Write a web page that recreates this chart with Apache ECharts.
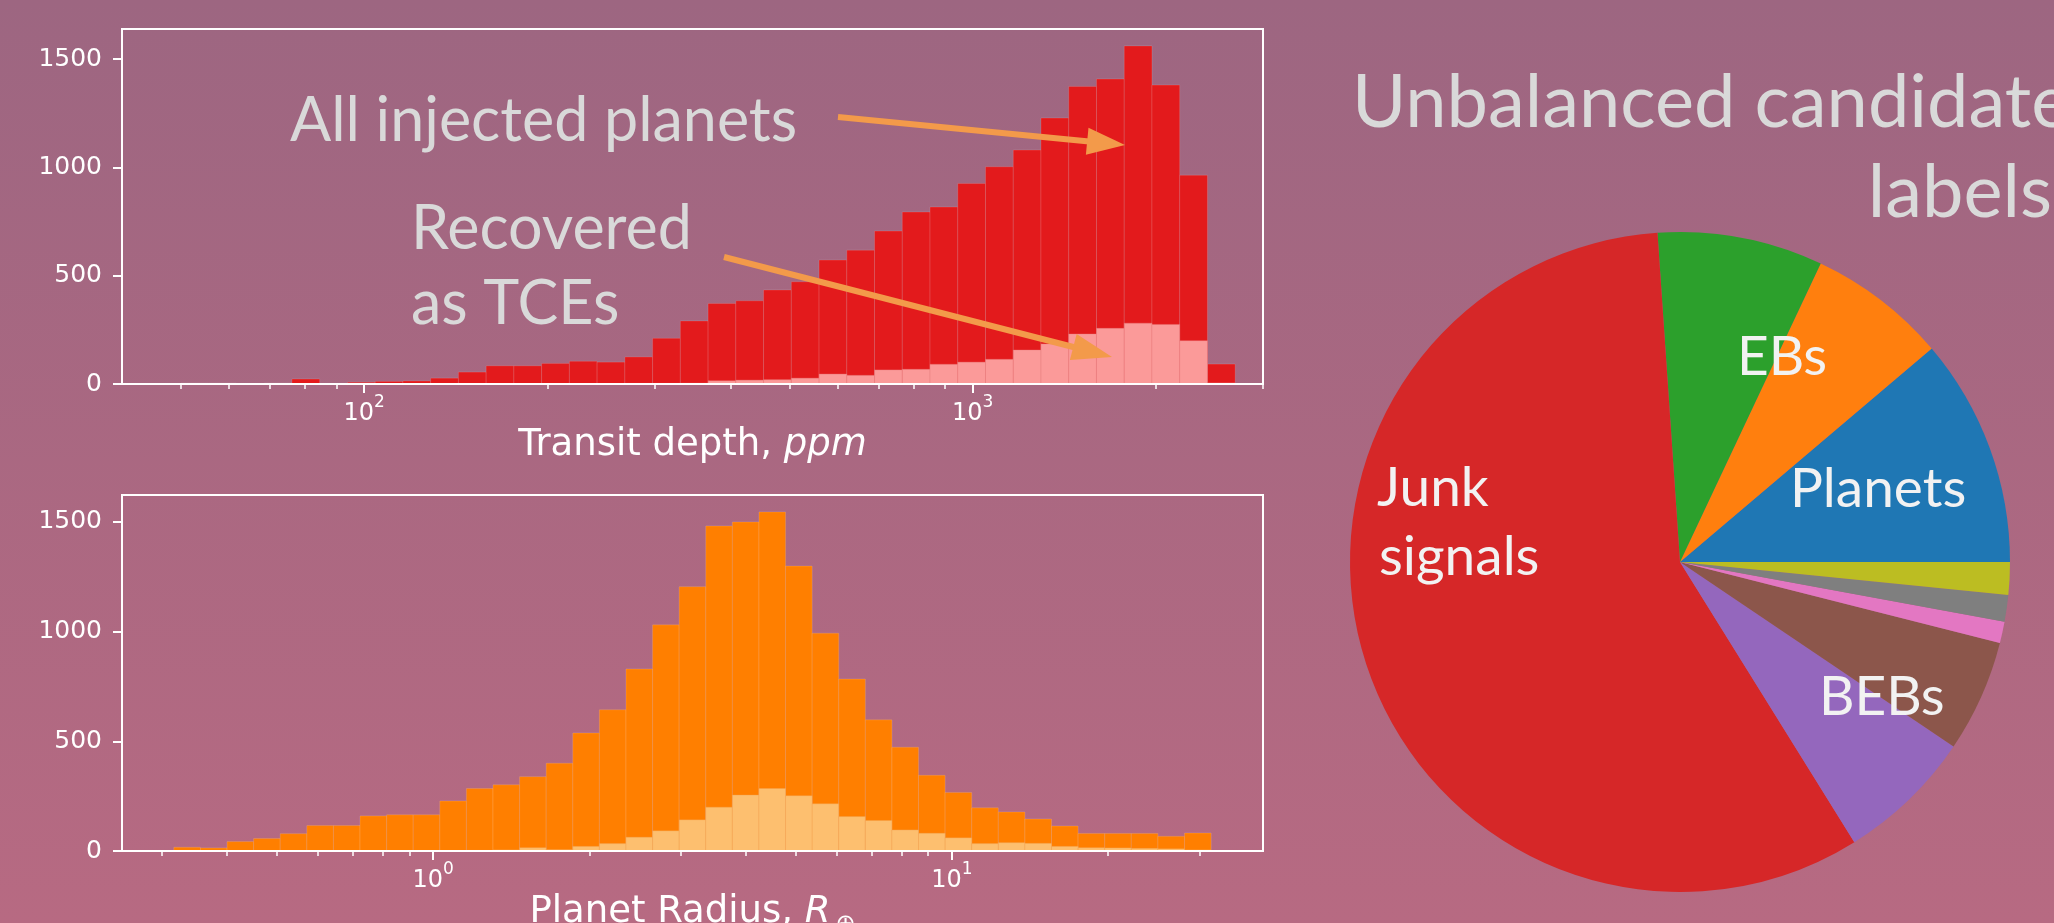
<!DOCTYPE html>
<html>
<head>
<meta charset="utf-8">
<script src="https://cdn.jsdelivr.net/npm/echarts@6/dist/echarts.min.js"></script>
<style>
  html, body { margin: 0; padding: 0; width: 2054px; height: 923px; overflow: hidden; background: #a66782; }
  #chart { width: 2054px; height: 923px; }
</style>
</head>
<body>
<div id="chart"></div>
<script>
// Transit depth histogram (ppm, log-spaced bins)
const depthEdges = [50.0, 55.53, 61.68, 68.51, 76.09, 84.51, 93.87, 104.26, 115.80, 128.62,
  142.85, 158.66, 176.22, 195.73, 217.39, 241.45, 268.18, 297.86, 330.83, 367.45,
  408.12, 453.29, 503.46, 559.19, 621.08, 689.83, 766.18, 850.98, 945.17, 1049.8,
  1166.0, 1295.0, 1438.4, 1597.6, 1774.4, 1970.8, 2189.0, 2431.2, 2700.3];
const depthAll = [4, 4, 2, 4, 23, 2, 8, 12, 14, 27, 55, 84, 84, 95, 105, 101, 125, 211, 291, 372,
  384, 434, 472, 572, 618, 706, 794, 817, 926, 1003, 1080, 1228, 1374, 1408, 1561, 1380, 964, 92];
const depthRecovered = [0, 0, 0, 0, 0, 0, 0, 0, 0, 1, 1, 1, 1, 2, 2, 2, 3, 3, 4, 15,
  18, 20, 27, 46, 40, 65, 68, 91, 101, 114, 157, 185, 231, 257, 281, 275, 200, 5];
const depthRange = [40, 3000];
const depthMajorTicks = [100, 1000];
const depthMinorTicks = [50, 60, 70, 80, 90, 200, 300, 400, 500, 600, 700, 800, 900, 2000, 3000];

// Planet radius histogram (Earth radii, log-spaced bins)
const radiusEdges = [0.3162, 0.3559, 0.4005, 0.4506, 0.5071, 0.5707, 0.6422, 0.7227, 0.8133, 0.9152,
  1.0299, 1.1590, 1.3042, 1.4677, 1.6516, 1.8586, 2.0915, 2.3537, 2.6487, 2.9806,
  3.3542, 3.7746, 4.2476, 4.7799, 5.3790, 6.0531, 6.8117, 7.6654, 8.6261, 9.7071,
  10.924, 12.293, 13.833, 15.567, 17.518, 19.713, 22.184, 24.964, 28.093, 31.623];
const radiusAll = [17, 14, 43, 57, 79, 116, 116, 160, 165, 165, 228, 285, 302, 339, 400, 538, 644, 830, 1031, 1205,
  1482, 1500, 1546, 1299, 993, 784, 598, 473, 345, 267, 197, 178, 146, 114, 80, 80, 80, 67, 82];
const radiusRecovered = [0, 0, 0, 0, 0, 0, 0, 0, 1, 1, 2, 3, 5, 15, 6, 21, 34, 63, 92, 142,
  200, 255, 285, 252, 215, 157, 139, 96, 81, 60, 34, 38, 35, 21, 15, 14, 12, 10, 5];
const radiusRange = [0.2512, 39.81];
const radiusMajorTicks = [1, 10];
const radiusMinorTicks = [0.3, 0.4, 0.5, 0.6, 0.7, 0.8, 0.9, 2, 3, 4, 5, 6, 7, 8, 9, 20, 30];

const countTicks = [0, 500, 1000, 1500];
const depthCountMax = 1639;
const radiusCountMax = 1623;

// Candidate label shares (percent), drawn counter-clockwise from 3 o'clock
const pieNames = ['Planets', 'EBs', 'HEBs', 'Junk signals', 'BEBs', 'NEBs', 'NHEBs', 'NTPs', 'Other'];
const pieValues = [11.2, 6.8, 8.1, 57.8, 6.7, 5.5, 1.05, 1.3, 1.6];
const pieColors = ['#1f77b4', '#ff7f0e', '#2ca02c', '#d62728', '#9467bd', '#8c564b', '#e377c2', '#7f7f7f', '#bcbd22'];

const WHITE = '#ffffff';
const TEXT_GREY = '#d9d9d9';
const ARROW = '#f39a4a';
const SLIDE_FONT = 'Lato, "Open Sans", sans-serif';
const TICK_FONT = '"DejaVu Sans", sans-serif';

const log10 = Math.log10;

function histData(edges, counts) {
  return counts.map((c, i) => [log10(edges[i]), log10(edges[i + 1]), c]);
}

function histRender(fill, stroke) {
  return function (params, api) {
    const a = api.coord([api.value(0), api.value(2)]);
    const b = api.coord([api.value(1), 0]);
    return {
      type: 'rect',
      shape: { x: a[0], y: a[1], width: b[0] - a[0], height: b[1] - a[1] },
      style: { fill: fill, stroke: stroke, lineWidth: 1 }
    };
  };
}

const tickRich = {
  b: { fontFamily: TICK_FONT, fontSize: 24, color: WHITE, lineHeight: 32, verticalAlign: 'bottom' },
  s: { fontFamily: TICK_FONT, fontSize: 17, color: WHITE, lineHeight: 32, verticalAlign: 'top' }
};

function xAxesFor(grid, range, major, minor, name, nameRich, nameGap) {
  const lo = log10(range[0]), hi = log10(range[1]);
  return [
    {
      type: 'value', gridIndex: grid, position: 'bottom', min: lo, max: hi, z: 10,
      axisLine: { show: true, onZero: false, lineStyle: { color: WHITE, width: 2 } },
      axisTick: { show: true, customValues: major.map(log10), length: 9, lineStyle: { color: WHITE, width: 2 } },
      axisLabel: {
        show: true, customValues: major.map(log10), margin: 10,
        formatter: v => '{b|10}{s|' + Math.round(v) + '}', rich: tickRich
      },
      splitLine: { show: false },
      name: name, nameLocation: 'middle', nameGap: nameGap,
      nameTextStyle: { rich: nameRich }
    },
    {
      type: 'value', gridIndex: grid, position: 'bottom', min: lo, max: hi, z: 10,
      axisLine: { show: false, onZero: false },
      axisTick: { show: true, customValues: minor.map(log10), length: 5, lineStyle: { color: WHITE, width: 1.5 } },
      axisLabel: { show: false },
      splitLine: { show: false }
    }
  ];
}

function yAxisFor(grid, max) {
  return {
    type: 'value', gridIndex: grid, position: 'left', min: 0, max: max, z: 10,
    axisLine: { show: true, onZero: false, lineStyle: { color: WHITE, width: 2 } },
    axisTick: { show: true, customValues: countTicks, length: 9, lineStyle: { color: WHITE, width: 2 } },
    axisLabel: { show: true, customValues: countTicks, margin: 20, color: WHITE, fontFamily: TICK_FONT, fontSize: 25,
                 formatter: v => String(v) },
    splitLine: { show: false }
  };
}

function arrow(x0, y0, x1, y1, headLen, headWidth, width) {
  const dx = x1 - x0, dy = y1 - y0, L = Math.hypot(dx, dy);
  const ux = dx / L, uy = dy / L, nx = -uy, ny = ux;
  const bx = x1 - ux * headLen, by = y1 - uy * headLen;
  return [
    { type: 'line', z: 20, shape: { x1: x0, y1: y0, x2: bx + ux * 2, y2: by + uy * 2 },
      style: { stroke: ARROW, lineWidth: width, lineCap: 'butt' } },
    { type: 'polygon', z: 20, shape: { points: [[x1, y1], [bx + nx * headWidth / 2, by + ny * headWidth / 2], [bx - nx * headWidth / 2, by - ny * headWidth / 2]] },
      style: { fill: ARROW } }
  ];
}

function slideText(text, x, y, size, color, align) {
  return {
    type: 'text', z: 30, x: x, y: y,
    style: { text: text, font: size + 'px ' + SLIDE_FONT, fill: color, align: align || 'left', verticalAlign: 'middle',
             textAlign: align || 'left', textVerticalAlign: 'middle' }
  };
}

const chart = echarts.init(document.getElementById('chart'), null, { renderer: 'canvas', width: 2054, height: 923 });

const depthNameRich = {
  n: { fontFamily: TICK_FONT, fontSize: 37, color: WHITE, lineHeight: 42 },
  i: { fontFamily: TICK_FONT, fontSize: 37, color: WHITE, lineHeight: 42, fontStyle: 'italic' }
};
const radiusNameRich = {
  n: { fontFamily: TICK_FONT, fontSize: 37, color: WHITE, lineHeight: 48, verticalAlign: 'middle' },
  i: { fontFamily: TICK_FONT, fontSize: 37, color: WHITE, lineHeight: 48, fontStyle: 'italic', verticalAlign: 'middle' },
  sub: { fontFamily: TICK_FONT, fontSize: 24, color: WHITE, lineHeight: 18, verticalAlign: 'bottom', padding: [0, 0, 0, 5] }
};

const gridBase = { left: 122, width: 1141, show: true, borderColor: WHITE, borderWidth: 2,
  backgroundColor: 'transparent', z: 10, containLabel: false, outerBoundsMode: 'none' };

const option = {
  animation: false,
  backgroundColor: new echarts.graphic.LinearGradient(0, 0, 0, 1, [
    { offset: 0, color: '#9d6681' },
    { offset: 1, color: '#b76a82' }
  ]),
  grid: [
    Object.assign({ top: 29, height: 355 }, gridBase),
    Object.assign({ top: 495, height: 356 }, gridBase)
  ],
  xAxis: [
    ...xAxesFor(0, depthRange, depthMajorTicks, depthMinorTicks, '{n|Transit depth, }{i|ppm}', depthNameRich, 40),
    ...xAxesFor(1, radiusRange, radiusMajorTicks, radiusMinorTicks, '{n|Planet Radius, }{i|R}{sub|⊕}', radiusNameRich, 32)
  ],
  yAxis: [yAxisFor(0, depthCountMax), yAxisFor(1, radiusCountMax)],
  series: [
    { type: 'custom', name: 'All injected planets', xAxisIndex: 0, yAxisIndex: 0, clip: true, silent: true,
      encode: { x: [0, 1], y: 2 }, data: histData(depthEdges, depthAll),
      renderItem: histRender('#e31a1c', 'rgba(255,255,255,0.13)') },
    { type: 'custom', name: 'Recovered as TCEs', xAxisIndex: 0, yAxisIndex: 0, clip: true, silent: true,
      encode: { x: [0, 1], y: 2 }, data: histData(depthEdges, depthRecovered),
      renderItem: histRender('#fb9a99', 'rgba(230,120,120,0.35)') },
    { type: 'custom', name: 'All injected planets', xAxisIndex: 2, yAxisIndex: 1, clip: true, silent: true,
      encode: { x: [0, 1], y: 2 }, data: histData(radiusEdges, radiusAll),
      renderItem: histRender('#ff7f00', 'rgba(255,255,255,0.13)') },
    { type: 'custom', name: 'Recovered as TCEs', xAxisIndex: 2, yAxisIndex: 1, clip: true, silent: true,
      encode: { x: [0, 1], y: 2 }, data: histData(radiusEdges, radiusRecovered),
      renderItem: histRender('#fdbf6f', 'rgba(240,160,80,0.35)') },
    { type: 'pie', center: [1680, 562], radius: 330, startAngle: 0, clockwise: false, silent: true,
      label: { show: false }, labelLine: { show: false }, itemStyle: { borderWidth: 0 },
      data: pieNames.map((n, i) => ({ name: n, value: pieValues[i], itemStyle: { color: pieColors[i] } })) }
  ],
  graphic: [
    slideText('All injected planets', 290, 121, 61, TEXT_GREY),
    slideText('Recovered', 411, 229, 61, TEXT_GREY),
    slideText('as TCEs', 411, 304, 61, TEXT_GREY),
    ...arrow(838, 117, 1125, 145, 38, 27, 6),
    ...arrow(724, 257, 1112, 357, 40, 27, 6),
    slideText('Unbalanced candidate', 1352, 103, 74, TEXT_GREY),
    slideText('labels', 2052, 193, 74, TEXT_GREY, 'right'),
    slideText('EBs', 1737, 357, 55, '#f2f2f2'),
    slideText('Planets', 1790, 489, 55, '#f2f2f2'),
    slideText('Junk', 1377, 488, 55, '#f2f2f2'),
    slideText('signals', 1379, 557, 55, '#f2f2f2'),
    slideText('BEBs', 1819, 697, 55, '#f2f2f2')
  ]
};

chart.setOption(option);
</script>
</body>
</html>
